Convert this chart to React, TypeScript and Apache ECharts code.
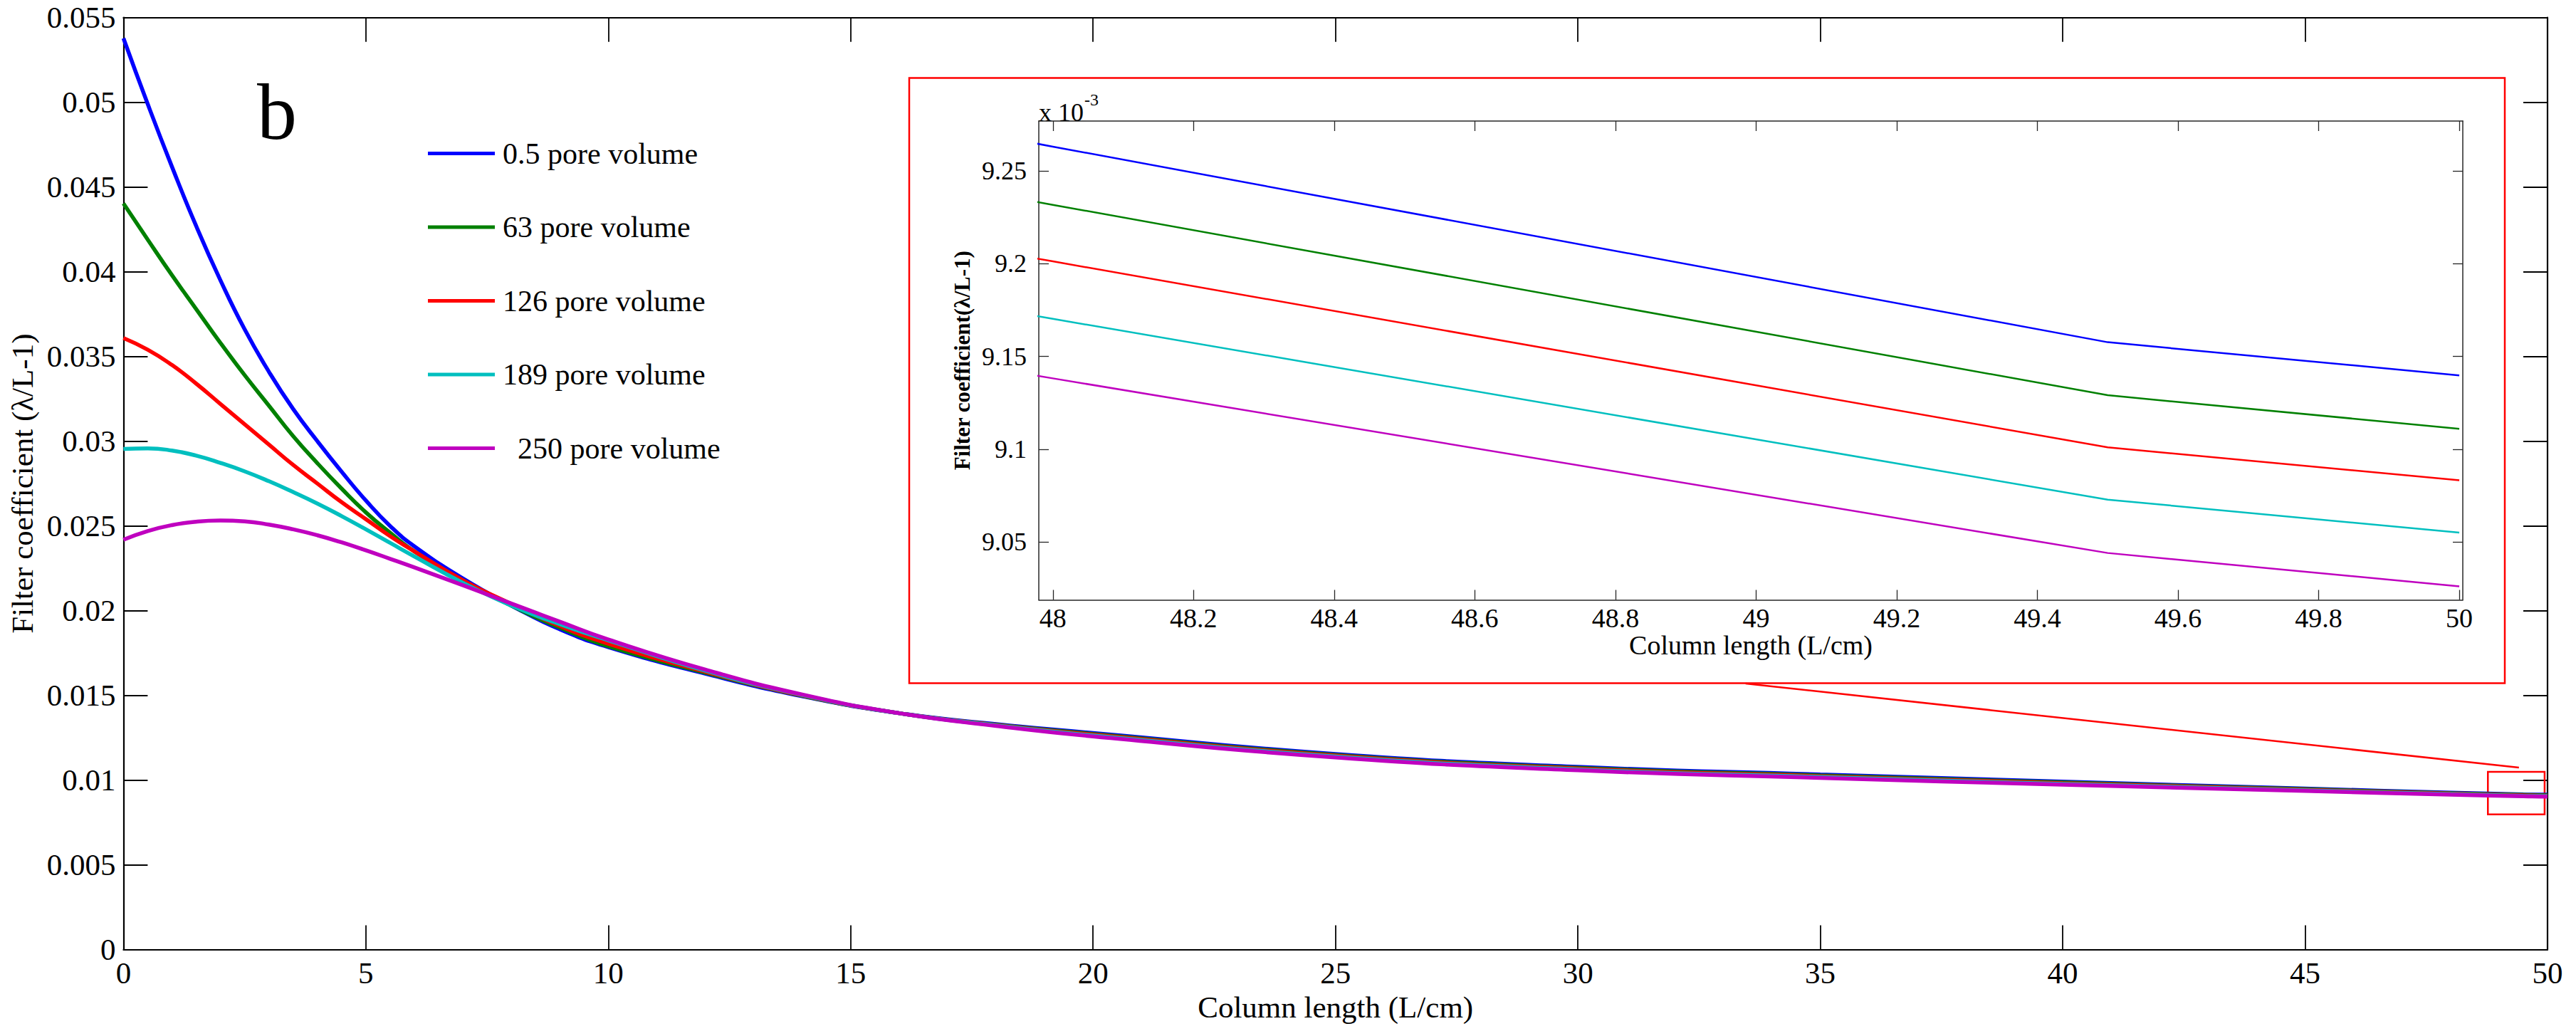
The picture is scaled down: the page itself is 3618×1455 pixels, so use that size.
import { useEffect, useRef } from 'react';
import * as echarts from 'echarts';

const FONT = 'Liberation Serif';

const seriesNames = ['0.5 pore volume', '63 pore volume', '126 pore volume', '189 pore volume', '250 pore volume'];
const seriesColors = ['#0000ff', '#008000', '#ff0000', '#00bfbf', '#bf00bf'];

// main panel, column length in cm
const columnLength = [0, 0.5, 1, 1.5, 2, 2.5, 3, 3.5, 4, 4.5, 5, 5.5, 6, 7, 8, 9, 10, 12, 14, 16, 18, 20, 25, 30, 35, 40, 45, 48, 49.5, 50];

const pv05 = [0.05378, 0.0499, 0.0462, 0.0427, 0.0395, 0.0366, 0.0341, 0.0319, 0.0300, 0.0282, 0.0265, 0.0250, 0.0238, 0.0219, 0.0203, 0.0189, 0.01785, 0.01628, 0.01495, 0.01395, 0.0133, 0.01278, 0.01154, 0.01078, 0.01033, 0.00991, 0.00950, 0.009263, 0.009158, 0.009140];
const pv63 = [0.04403, 0.0419, 0.0398, 0.0378, 0.0358, 0.0339, 0.0321, 0.0303, 0.0287, 0.0272, 0.0258, 0.0246, 0.0235, 0.0218, 0.0203, 0.0190, 0.0179, 0.01634, 0.01498, 0.01395, 0.01327, 0.01273, 0.01149, 0.01073, 0.01028, 0.009865, 0.009465, 0.009232, 0.009129, 0.009111];
const pv126 = [0.03609, 0.0354, 0.0345, 0.0334, 0.0322, 0.0310, 0.0298, 0.0286, 0.0275, 0.0264, 0.0254, 0.0244, 0.0235, 0.0218, 0.0204, 0.0191, 0.01805, 0.0164, 0.0150, 0.01395, 0.01325, 0.01268, 0.01144, 0.01068, 0.01023, 0.00982, 0.00943, 0.009202, 0.009101, 0.009083];
const pv189 = [0.02954, 0.02958, 0.02945, 0.02915, 0.02872, 0.02822, 0.02764, 0.02700, 0.02632, 0.02558, 0.02480, 0.02400, 0.02320, 0.02165, 0.02030, 0.01920, 0.01825, 0.01646, 0.01502, 0.01395, 0.01323, 0.01263, 0.01139, 0.01063, 0.01018, 0.009775, 0.009395, 0.009171, 0.009073, 0.009055];
const pv250 = [0.02419, 0.02470, 0.02505, 0.02525, 0.02532, 0.02527, 0.02508, 0.02480, 0.02445, 0.02403, 0.02356, 0.02306, 0.02255, 0.02150, 0.02042, 0.01935, 0.01830, 0.01652, 0.01505, 0.01395, 0.0132, 0.01258, 0.01134, 0.01058, 0.01013, 0.00973, 0.00936, 0.009139, 0.009044, 0.009026];

// zoomed panel, values in units of 1e-3
const insetLength = [47.5, 48, 49.5, 50];
const insetPv05 = [9.2984, 9.2632, 9.1577, 9.1398];
const insetPv63 = [9.2661, 9.2318, 9.1291, 9.1110];
const insetPv126 = [9.2347, 9.2013, 9.1010, 9.0832];
const insetPv189 = [9.2028, 9.1703, 9.0728, 9.0550];
const insetPv250 = [9.1696, 9.1382, 9.0440, 9.0260];

const insetXTicks = [48, 48.2, 48.4, 48.6, 48.8, 49, 49.2, 49.4, 49.6, 49.8, 50];
const insetYTicks = [9.05, 9.1, 9.15, 9.2, 9.25];

// zoom marker and connector, in main data coordinates
const zoomBox = [[48.77, 0.01049], [49.94, 0.00798]];
const connector = [[33.46, 0.0157], [49.41, 0.01074]];

const mainValues = [pv05, pv63, pv126, pv189, pv250];
const insetValues = [insetPv05, insetPv63, insetPv126, insetPv189, insetPv250];

export default function App() {
  const chartRef = useRef<HTMLDivElement>(null);

  useEffect(() => {
    document.body.style.margin = '0';
    if (!chartRef.current) return;
    const chart = echarts.init(chartRef.current, undefined, { renderer: 'svg' });

    const black = '#000';
    const mainLine = { onZero: false, lineStyle: { color: black, width: 2.2 } };
    const mainTick = { inside: true, length: 34, lineStyle: { color: black, width: 1.8 } };
    const insetLine = { onZero: false, lineStyle: { color: '#262626', width: 1.5 } };
    const insetTickX = { inside: true, length: 14, customValues: insetXTicks, lineStyle: { color: '#262626', width: 1.3 } };
    const insetTickY = { inside: true, length: 14, customValues: insetYTicks, lineStyle: { color: '#262626', width: 1.3 } };

    const mainSeries = mainValues.map((vals, i) => ({
      name: seriesNames[i],
      type: 'line',
      xAxisIndex: 0,
      yAxisIndex: 0,
      data: columnLength.map((x, j) => [x, vals[j]]),
      showSymbol: false,
      smooth: true,
      color: seriesColors[i],
      lineStyle: { color: seriesColors[i], width: 5.5 },
      z: 2,
      ...(i === 0
        ? {
            markLine: {
              silent: true,
              symbol: ['none', 'none'],
              label: { show: false },
              lineStyle: { color: '#ff0000', width: 2.5, type: 'solid' },
              data: [[{ coord: connector[0] }, { coord: connector[1] }]],
            },
            markArea: {
              silent: true,
              itemStyle: { color: 'rgba(255,255,255,0)', borderColor: '#ff0000', borderWidth: 2.5 },
              data: [[{ coord: zoomBox[0] }, { coord: zoomBox[1] }]],
            },
          }
        : {}),
    }));

    const insetSeries = insetValues.map((vals, i) => ({
      name: seriesNames[i],
      type: 'line',
      xAxisIndex: 2,
      yAxisIndex: 2,
      data: insetLength.map((x, j) => [x, vals[j]]),
      showSymbol: false,
      smooth: false,
      clip: true,
      color: seriesColors[i],
      lineStyle: { color: seriesColors[i], width: 2.5 },
      z: 10,
    }));

    chart.setOption({
      animation: false,
      backgroundColor: '#ffffff',
      textStyle: { fontFamily: FONT },
      grid: [
        { left: 173.4, top: 24.7, width: 3404.6, height: 1308.9 },
        { left: 1459, top: 170, width: 2000, height: 672.5 },
      ],
      legend: {
        data: seriesNames,
        orient: 'vertical',
        left: 596,
        top: 185.5,
        icon: 'rect',
        itemWidth: 94,
        itemHeight: 5,
        itemGap: 53.5,
        selectedMode: false,
        textStyle: { fontSize: 42, fontFamily: FONT, color: black, lineHeight: 50, padding: [0, 0, 0, 6] },
        formatter: (name: string) => (name === '250 pore volume' ? '\u00a0\u00a0' + name : name),
      },
      xAxis: [
        {
          gridIndex: 0, type: 'value', min: 0, max: 50, interval: 5, position: 'bottom',
          axisLine: mainLine, axisTick: mainTick, splitLine: { show: false },
          axisLabel: { fontSize: 43, color: black, margin: 11.5, fontFamily: FONT },
          name: 'Column length (L/cm)', nameLocation: 'middle', nameGap: 57,
          nameTextStyle: { fontSize: 43, color: black, fontFamily: FONT },
        },
        {
          gridIndex: 0, type: 'value', min: 0, max: 50, interval: 5, position: 'top',
          axisLine: mainLine, axisTick: mainTick, splitLine: { show: false }, axisLabel: { show: false },
        },
        {
          gridIndex: 1, type: 'value', min: 47.98, max: 50.005, position: 'bottom', z: 10,
          axisLine: insetLine, axisTick: insetTickX, splitLine: { show: false },
          axisLabel: { customValues: insetXTicks, fontSize: 38, color: black, margin: 6, fontFamily: FONT },
          name: 'Column length (L/cm)', nameLocation: 'middle', nameGap: 36,
          nameTextStyle: { fontSize: 38, color: black, fontFamily: FONT },
        },
        {
          gridIndex: 1, type: 'value', min: 47.98, max: 50.005, position: 'top', z: 10,
          axisLine: insetLine, axisTick: insetTickX, splitLine: { show: false }, axisLabel: { show: false },
        },
      ],
      yAxis: [
        {
          gridIndex: 0, type: 'value', min: 0, max: 0.055, interval: 0.005, position: 'left',
          axisLine: mainLine, axisTick: mainTick, splitLine: { show: false },
          axisLabel: { fontSize: 43, color: black, margin: 11, fontFamily: FONT },
          name: 'Filter coefficient (λ/L-1)', nameLocation: 'middle', nameGap: 120, nameRotate: 90,
          nameTextStyle: { fontSize: 43, color: black, fontFamily: FONT },
        },
        {
          gridIndex: 0, type: 'value', min: 0, max: 0.055, interval: 0.005, position: 'right',
          axisLine: mainLine, axisTick: mainTick, splitLine: { show: false }, axisLabel: { show: false },
        },
        {
          gridIndex: 1, type: 'value', min: 9.0187, max: 9.277, position: 'left', z: 10,
          axisLine: insetLine, axisTick: insetTickY, splitLine: { show: false },
          axisLabel: { customValues: insetYTicks, fontSize: 36, color: black, margin: 17, fontFamily: FONT },
          name: 'Filter coefficient(λ/L-1)', nameLocation: 'middle', nameGap: 92, nameRotate: 90,
          nameTextStyle: { fontSize: 31, fontWeight: 'bold', color: black, fontFamily: FONT },
        },
        {
          gridIndex: 1, type: 'value', min: 9.0187, max: 9.277, position: 'right', z: 10,
          axisLine: insetLine, axisTick: insetTickY, splitLine: { show: false }, axisLabel: { show: false },
        },
      ],
      graphic: {
        elements: [
          {
            type: 'rect', z: 5, silent: true,
            shape: { x: 1277, y: 109.5, width: 2241, height: 850 },
            style: { fill: '#ffffff', stroke: '#ff0000', lineWidth: 2.5 },
          },
          {
            type: 'text', z: 5, silent: true, x: 361, y: 157,
            style: {
              text: 'b', fontSize: 112, fontFamily: FONT, fill: black,
              align: 'left', verticalAlign: 'middle', textAlign: 'left', textVerticalAlign: 'middle',
            },
          },
          {
            type: 'text', z: 12, silent: true, x: 1459, y: 176,
            style: {
              text: '{a|x 10}{b|-3}', fill: black,
              align: 'left', verticalAlign: 'bottom', textAlign: 'left', textVerticalAlign: 'bottom',
              rich: {
                a: { fontSize: 36, fontFamily: FONT, fill: black, lineHeight: 36, verticalAlign: 'bottom' },
                b: { fontSize: 24, fontFamily: FONT, fill: black, lineHeight: 24, verticalAlign: 'bottom', padding: [0, 0, 24, 1] },
              },
            },
          },
        ],
      },
      series: [...mainSeries, ...insetSeries],
    } as any);

    return () => {
      chart.dispose();
    };
  }, []);

  return <div ref={chartRef} style={{ width: 3618, height: 1455 }} />;
}
